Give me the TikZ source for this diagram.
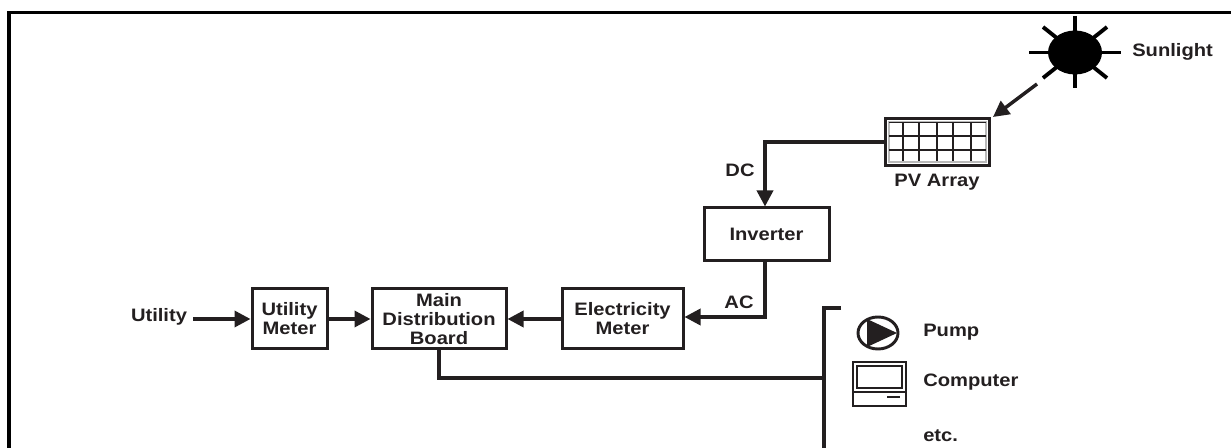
\documentclass[tikz,border=0pt]{standalone}
\usepackage{fontspec}
\setmainfont[FakeStretch=1.12]{Liberation Sans}
\usetikzlibrary{arrows.meta,shapes.geometric,calc}
\definecolor{ink}{HTML}{231F20}
\tikzset{
  x=0.75pt,y=-0.75pt,
  lbl/.style={inner sep=0pt,text=ink,font=\fontsize{13.5pt}{14.3pt}\selectfont\bfseries,align=center},
  blockbox/.style={draw=ink,line width=2.25pt,inner sep=0pt,align=center,text=ink,font=\fontsize{13.5pt}{14.3pt}\selectfont\bfseries},
  wire/.style={draw=ink,line width=2.6pt},
  flow/.style={wire,-{Triangle[length=12pt,width=12pt]}},
  ray/.style={draw=black,line width=2.9pt},
  thin grid/.style={draw=ink,line width=1.1pt},
}
\newcommand{\boxat}[6]{\node[blockbox,minimum width=#3*0.75pt,minimum height=#4*0.75pt] (#5) at (#1,#2) {#6};}
\begin{document}
\begin{tikzpicture}
\useasboundingbox (0,0) rectangle (1231,448);
\fill[white] (0,0) rectangle (1231,448);
% frame
\draw[black,line width=2.4pt] (9,448) -- (9,12.5) -- (1231,12.5);
% sun
\draw[ray] (1029,52.5) -- (1121,52.5);
\draw[ray] (1075,16) -- (1075,88.5);
\draw[ray] (1043,27) -- (1107,78);
\draw[ray] (1043,78) -- (1107,27);
\node[ellipse,fill=black,draw=none,minimum width=54*0.75pt,minimum height=44*0.75pt,inner sep=0pt] (sun) at (1075,52.5) {};
\node[lbl,anchor=west] (sunlabel) at (1132,52) {Sunlight};
% PV array
\node[draw=ink,line width=2.4pt,fill=white,minimum width=104*0.75pt,minimum height=47*0.75pt,inner sep=0pt] (pv) at (937.5,142) {};
\draw[gray!55,line width=0.8pt] (889,122) rectangle (986,162);
\foreach \x in {903,919,937,953,971}{\draw[thin grid] (\x,122.5) -- (\x,161.5);}
\foreach \y in {122.5,136,150}{\draw[thin grid] (889,\y) -- (986,\y);}
\node[lbl] (pvlabel) at (937,182) {PV Array};
\coordinate (sunfoot) at (1037,84);
\coordinate (pvcorner) at (993,117);
\draw[flow] (sunfoot) -- (pvcorner);
% blocks
\boxat{766.5}{234.5}{125}{53}{inv}{Inverter}
\boxat{622.5}{319}{121}{60}{em}{Electricity\\Meter}
\boxat{439}{319}{134}{60}{mdb}{Main\\Distribution\\Board}
\boxat{289.5}{319}{75}{60}{um}{Utility\\Meter}
\node[lbl] (util) at (159,317) {Utility};
\node[lbl] (dc) at (740,170) {DC};
\node[lbl] (ac) at (739,302) {AC};
% connectors
\coordinate (dcbend) at (765,142);
\coordinate (acbend) at (765,317);
\draw[flow] (pv.west) -- (dcbend) -- (inv.north -| dcbend);
\draw[flow] (inv.south -| acbend) -- (acbend) -- (em.east |- acbend);
\draw[flow] (em.west) -- (mdb.east);
\draw[flow] (um.east) -- (mdb.west);
\draw[flow] (util.east |- um.west) ++(6,0) -- (um.west);
% bus
\coordinate (bustop) at (824,308);
\coordinate (busstub) at (841,308);
\coordinate (busbot) at (824,448);
\coordinate (busjoin) at (824,378);
\draw[wire] (busstub) -- (bustop) -- (busbot);
\draw[wire] (mdb.south) -- (mdb.south |- busjoin) -- (busjoin);
% pump
\node[ellipse,draw=ink,line width=2.2pt,minimum width=40*0.75pt,minimum height=32*0.75pt,inner sep=0pt] (pump) at (878,333) {};
\fill[ink] (867,319) -- (897,333) -- (867,347) -- cycle;
\node[lbl,anchor=west] (pumplabel) at (923,332) {Pump};
% computer
\node[draw=ink,line width=1.6pt,minimum width=53*0.75pt,minimum height=44*0.75pt,inner sep=0pt] (comp) at (879.5,384) {};
\draw[ink,line width=1.3pt] (857,366) rectangle (902,388);
\draw[ink,line width=1.3pt] (853,392) -- (906,392);
\draw[ink,line width=1.5pt] (887,397) -- (900,397);
\node[lbl,anchor=west] (complabel) at (923,382) {Computer};
\node[lbl,anchor=west] (etc) at (923,436) {etc.};
\end{tikzpicture}
\end{document}
